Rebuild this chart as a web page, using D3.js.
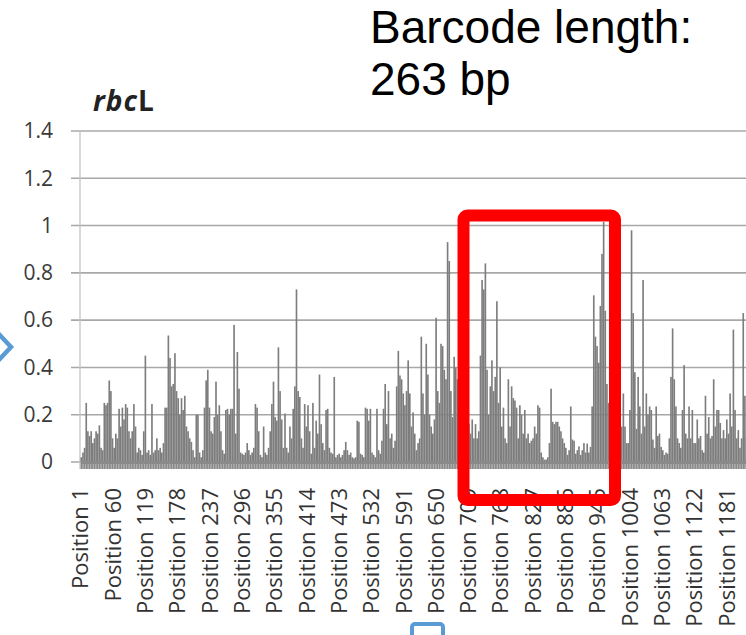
<!DOCTYPE html>
<html>
<head>
<meta charset="utf-8">
<script src="https://cdn.jsdelivr.net/npm/d3@7"></script>
<style>
  body { margin: 0; background: #fff; }
  text { font-family: "Open Sans", "DejaVu Sans", sans-serif; }
</style>
</head>
<body>
<script>
// categories: each bar groups 3 alignment positions (first position of the group)
const binStart = d3.range(1, 1219, 3);

// divergence per group (rows of 10 bars)
const divergence = [
  0.02, 0.04, 0.06, 0.25, 0.13, 0.11, 0.13, 0.08, 0.10, 0.13,
  0.12, 0.155, 0.06, 0.05, 0.25, 0.24, 0.25, 0.345, 0.30, 0.10,
  0.06, 0.12, 0.10, 0.225, 0.15, 0.23, 0.18, 0.245, 0.23, 0.13,
  0.10, 0.13, 0.245, 0.15, 0.04, 0.06, 0.05, 0.03, 0.13, 0.45,
  0.04, 0.05, 0.03, 0.245, 0.04, 0.05, 0.10, 0.05, 0.06, 0.04,
  0.08, 0.23, 0.23, 0.535, 0.44, 0.32, 0.33, 0.46, 0.30, 0.27,
  0.20, 0.27, 0.22, 0.28, 0.15, 0.13, 0.10, 0.085, 0.05, 0.02,
  0.20, 0.20, 0.04, 0.02, 0.05, 0.23, 0.345, 0.39, 0.23, 0.13,
  0.12, 0.19, 0.34, 0.20, 0.24, 0.13, 0.05, 0.035, 0.22, 0.225,
  0.20, 0.225, 0.225, 0.58, 0.12, 0.465, 0.31, 0.04, 0.035, 0.03,
  0.04, 0.08, 0.05, 0.03, 0.04, 0.06, 0.245, 0.23, 0.13, 0.03,
  0.02, 0.15, 0.04, 0.03, 0.06, 0.13, 0.245, 0.34, 0.19, 0.175,
  0.485, 0.30, 0.18, 0.06, 0.205, 0.06, 0.04, 0.15, 0.10, 0.225,
  0.32, 0.73, 0.30, 0.275, 0.10, 0.06, 0.245, 0.15, 0.24, 0.13,
  0.035, 0.25, 0.06, 0.175, 0.12, 0.37, 0.16, 0.08, 0.05, 0.22,
  0.225, 0.06, 0.04, 0.035, 0.36, 0.02, 0.03, 0.035, 0.02, 0.03,
  0.05, 0.085, 0.05, 0.03, 0.04, 0.02, 0.015, 0.02, 0.175, 0.17,
  0.035, 0.03, 0.02, 0.23, 0.225, 0.175, 0.225, 0.04, 0.03, 0.02,
  0.225, 0.05, 0.035, 0.09, 0.225, 0.33, 0.16, 0.30, 0.10, 0.12,
  0.06, 0.09, 0.32, 0.47, 0.366, 0.35, 0.29, 0.24, 0.30, 0.43,
  0.29, 0.15, 0.21, 0.12, 0.05, 0.08, 0.10, 0.53, 0.29, 0.20,
  0.50, 0.37, 0.20, 0.15, 0.12, 0.18, 0.61, 0.30, 0.25, 0.50,
  0.49, 0.39, 0.35, 0.93, 0.85, 0.30, 0.19, 0.445, 0.40, 0.35,
  0.30, 0.25, 0.22, 0.20, 0.15, 0.18, 0.16, 0.12, 0.18, 0.10,
  0.16, 0.10, 0.13, 0.45, 0.77, 0.73, 0.84, 0.39, 0.20, 0.32,
  0.43, 0.30, 0.36, 0.68, 0.25, 0.40, 0.15, 0.23, 0.10, 0.08,
  0.35, 0.15, 0.32, 0.27, 0.26, 0.23, 0.10, 0.24, 0.20, 0.12,
  0.22, 0.10, 0.12, 0.08, 0.09, 0.10, 0.15, 0.12, 0.24, 0.23,
  0.04, 0.02, 0.01, 0.01, 0.02, 0.08, 0.31, 0.17, 0.16, 0.17,
  0.17, 0.15, 0.13, 0.10, 0.08, 0.06, 0.03, 0.05, 0.235, 0.095,
  0.09, 0.035, 0.05, 0.066, 0.03, 0.05, 0.08, 0.04, 0.078, 0.04,
  0.064, 0.235, 0.705, 0.53, 0.49, 0.42, 0.66, 0.88, 1.015, 0.64,
  0.33, 0.25, 0.20, 0.15, 0.12, 0.10, 0.08, 0.10, 0.12, 0.15,
  0.29, 0.15, 0.08, 0.08, 0.22, 0.98, 0.63, 0.38, 0.14, 0.36,
  0.235, 0.12, 0.77, 0.15, 0.29, 0.20, 0.235, 0.22, 0.095, 0.06,
  0.235, 0.11, 0.12, 0.064, 0.05, 0.03, 0.04, 0.035, 0.10, 0.36,
  0.565, 0.35, 0.235, 0.10, 0.08, 0.06, 0.22, 0.41, 0.12, 0.10,
  0.235, 0.10, 0.22, 0.08, 0.08, 0.18, 0.10, 0.11, 0.05, 0.04,
  0.28, 0.12, 0.19, 0.10, 0.11, 0.35, 0.15, 0.22, 0.22, 0.165,
  0.10, 0.135, 0.10, 0.18, 0.12, 0.29, 0.15, 0.56, 0.22, 0.10,
  0.135, 0.06, 0.10, 0.63, 0.28, 0.10
];

const yTicks = [0, 0.2, 0.4, 0.6, 0.8, 1, 1.2, 1.4];
const yTickLabels = ["0", "0.2", "0.4", "0.6", "0.8", "1", "1.2", "1.4"];

const labelPositions = [1, 60, 119, 178, 237, 296, 355, 414, 473, 532, 591, 650,
  709, 768, 827, 886, 945, 1004, 1063, 1122, 1181];

const w = 746;
const h = 635;

const svg = d3.select("body")
  .append("svg")
  .attr("width", w)
  .attr("height", h);

const plotLeft = 80;
const step = 0.5475; // px per alignment position

const x = d3.scaleBand()
  .domain(binStart)
  .range([plotLeft + 0.5, plotLeft + 0.5 + binStart.length * 3 * step])
  .padding(0);

const posX = d3.scaleLinear()
  .domain([0.5, binStart.length * 3 + 0.5])
  .range(x.range());

const y = d3.scaleLinear()
  .domain([0, 1.4])
  .range([462, 131]);

// gridlines with small tick stubs to the left of the axis
svg.append("g")
  .selectAll("line")
  .data(yTicks)
  .enter()
  .append("line")
  .attr("x1", 71)
  .attr("x2", w)
  .attr("y1", d => y(d))
  .attr("y2", d => y(d))
  .attr("stroke", "#a8a8a8")
  .attr("stroke-width", 1.6);

// y axis line
svg.append("line")
  .attr("x1", plotLeft)
  .attr("x2", plotLeft)
  .attr("y1", y(1.4))
  .attr("y2", y(0) + 7)
  .attr("stroke", "#c4c4c4")
  .attr("stroke-width", 1.3);

// y labels
svg.append("g")
  .selectAll("text")
  .data(yTicks)
  .enter()
  .append("text")
  .attr("x", 53)
  .attr("y", d => y(d))
  .attr("dy", "0.35em")
  .attr("text-anchor", "end")
  .attr("font-size", 21)
  .attr("fill", "#3a3a3a")
  .text((d, i) => yTickLabels[i]);

// bars
svg.append("g")
  .selectAll("rect")
  .data(binStart)
  .enter()
  .append("rect")
  .attr("x", d => x(d))
  .attr("width", x.bandwidth())
  .attr("y", (d, i) => y(divergence[i]))
  .attr("height", (d, i) => y(0) - y(divergence[i]))
  .attr("fill", "#7d7d7d");

// category axis: one tick per group makes the dense band under the bars
const xAxis = svg.append("g")
  .attr("transform", `translate(0, ${y(0)})`)
  .call(d3.axisBottom(x).tickSize(7).tickSizeOuter(0).tickFormat(() => ""));
xAxis.select(".domain").attr("stroke", "#8a8a8a").attr("stroke-width", 3);
xAxis.selectAll(".tick line").attr("stroke", "#8a8a8a").attr("stroke-width", 1.5);

// rotated category labels
svg.append("g")
  .selectAll("text")
  .data(labelPositions)
  .enter()
  .append("text")
  .attr("transform", d => `translate(${posX(d)}, 488) rotate(-90)`)
  .attr("dy", "0.35em")
  .attr("text-anchor", "end")
  .attr("font-size", 22)
  .attr("fill", "#333")
  .text(d => "Position " + d);

// chart title
const title = svg.append("text")
  .attr("x", 93)
  .attr("y", 111)
  .attr("font-size", 28)
  .attr("font-weight", "bold")
  .attr("letter-spacing", 1)
  .attr("fill", "#222");
title.append("tspan").attr("font-style", "italic").text("rbc");
title.append("tspan").text("L");

// annotation
svg.append("g")
  .selectAll("text")
  .data(["Barcode length:", "263 bp"])
  .enter()
  .append("text")
  .attr("x", 370)
  .attr("y", (d, i) => 43 + i * 52)
  .style("font-family", "'Liberation Sans', Arial, sans-serif")
  .attr("font-size", 46)
  .attr("fill", "#000")
  .text(d => d);

// red highlight box
svg.append("rect")
  .attr("x", 463.5)
  .attr("y", 215.5)
  .attr("width", 151.5)
  .attr("height", 284.5)
  .attr("rx", 4)
  .attr("fill", "none")
  .attr("stroke", "#ff0000")
  .attr("stroke-width", 12);

// blue shapes at the edges
svg.append("polyline")
  .attr("points", "-3,332 11,347 -3,362")
  .attr("fill", "none")
  .attr("stroke", "#5b9bd5")
  .attr("stroke-width", 4.5);
svg.append("rect")
  .attr("x", 412)
  .attr("y", 624)
  .attr("width", 31)
  .attr("height", 30)
  .attr("rx", 3)
  .attr("fill", "none")
  .attr("stroke", "#5b9bd5")
  .attr("stroke-width", 4);
</script>
</body>
</html>
